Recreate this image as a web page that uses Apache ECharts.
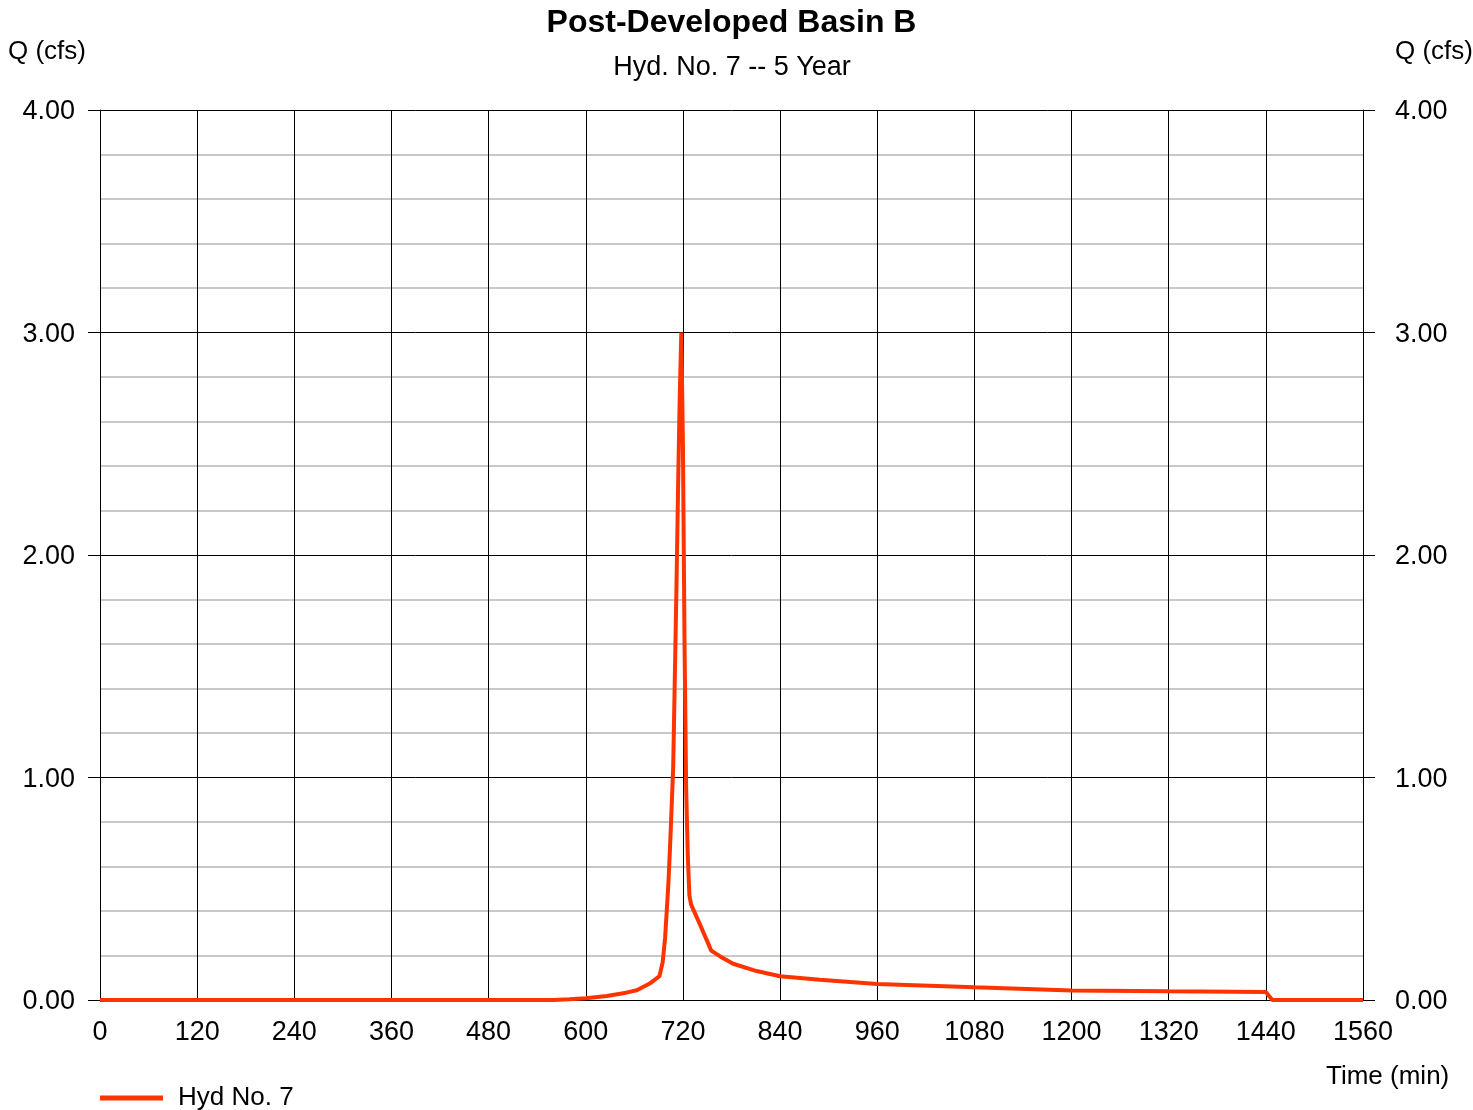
<!DOCTYPE html>
<html>
<head>
<meta charset="utf-8">
<title>Post-Developed Basin B</title>
<script src="https://cdn.jsdelivr.net/npm/echarts@6/dist/echarts.min.js"></script>
<style>
	html, body { margin: 0; padding: 0; background: #fff; }
	#chart { width: 1473px; height: 1110px; }
</style>
</head>
<body>
<div id="chart"></div>
<script>
// time (min)
var timeMin = [0, 560, 580, 600, 626, 650, 663, 679, 691, 695, 698, 700, 702, 704, 706, 708, 710, 712, 714, 716, 718,
	720, 722, 724, 726, 728, 730, 741, 755, 766, 782, 811, 840, 889, 960, 1080, 1200, 1320, 1440, 1448, 1560];
// Q (cfs)
var flowCfs = [0, 0, 0.003, 0.008, 0.018, 0.033, 0.044, 0.074, 0.107, 0.17, 0.28, 0.40, 0.52, 0.68, 0.86, 1.05, 1.45, 1.85, 2.3, 2.7, 3.0,
	2.5, 1.6, 0.95, 0.65, 0.47, 0.43, 0.34, 0.222, 0.196, 0.163, 0.13, 0.107, 0.091, 0.072, 0.057, 0.043, 0.039, 0.036, 0, 0];

var xTicks = { min: 0, max: 1560, step: 120 };
var yTicks = { min: 0, max: 4, step: 1 };

var points = timeMin.map(function(t, i) {
	return [t, flowCfs[i]];
});

var font = 'Liberation Sans, Arial, sans-serif';

// y labels sit a touch lower than the tick in the original
var yLabelRich = {
	v: { fontSize: 27, color: '#000', fontFamily: font, padding: [4, 0, 0, 0] }
};

var chart = echarts.init(document.getElementById('chart'));
chart.setOption({
	animation: false,
	textStyle: {
		fontFamily: font
	},
	title: [{
		text: 'Q (cfs)',
		left: 8,
		top: 39,
		padding: 0,
		textStyle: { fontSize: 26, fontWeight: 'normal', color: '#000', fontFamily: font }
	}, {
		text: 'Q (cfs)',
		left: 1395,
		top: 39,
		padding: 0,
		textStyle: { fontSize: 26, fontWeight: 'normal', color: '#000', fontFamily: font }
	}, {
		text: 'Time (min)',
		left: 1326,
		top: 1064,
		padding: 0,
		textStyle: { fontSize: 26, fontWeight: 'normal', color: '#000', fontFamily: font }
	}],
	graphic: [{
		type: 'text',
		x: 731.5,
		y: 23,
		style: {
			text: 'Post-Developed Basin B',
			align: 'center',
			verticalAlign: 'middle',
			font: 'bold 32px ' + font,
			fill: '#000'
		}
	}, {
		type: 'text',
		x: 732,
		y: 68,
		style: {
			text: 'Hyd. No. 7 -- 5 Year',
			align: 'center',
			verticalAlign: 'middle',
			font: '27px ' + font,
			fill: '#000'
		}
	}],
	legend: {
		left: 100,
		top: 1085,
		padding: 0,
		icon: 'rect',
		itemWidth: 63,
		itemHeight: 5,
		textStyle: { fontSize: 26, color: '#000', fontFamily: font, padding: [0, 0, 0, 10] },
		data: ['Hyd No. 7']
	},
	grid: {
		left: 100,
		right: 110,
		top: 110,
		bottom: 110
	},
	xAxis: {
		type: 'value',
		min: xTicks.min,
		max: xTicks.max,
		interval: xTicks.step,
		axisLine: { show: true, lineStyle: { color: '#000', width: 1 } },
		axisTick: { show: false },
		axisLabel: {
			color: '#000',
			fontSize: 27,
			margin: 19,
			fontFamily: font,
			formatter: function(v) { return String(v); }
		},
		splitLine: { show: true, lineStyle: { color: '#000', width: 1 } }
	},
	yAxis: [{
		type: 'value',
		position: 'left',
		min: yTicks.min,
		max: yTicks.max,
		interval: yTicks.step,
		axisLine: { show: true, lineStyle: { color: '#000', width: 1 } },
		axisTick: { show: true, inside: false, length: 12, lineStyle: { color: '#000' } },
		axisLabel: {
			color: '#000',
			fontSize: 27,
			margin: 25,
			fontFamily: font,
			rich: yLabelRich,
			formatter: function(v) { return '{v|' + v.toFixed(2) + '}'; }
		},
		splitLine: { show: true, lineStyle: { color: '#000', width: 1 } },
		minorTick: { show: false, splitNumber: 5 },
		minorSplitLine: { show: true, lineStyle: { color: '#c8c8c8', width: 2 } }
	}, {
		type: 'value',
		position: 'right',
		min: yTicks.min,
		max: yTicks.max,
		interval: yTicks.step,
		axisLine: { show: true, lineStyle: { color: '#000', width: 1 } },
		axisTick: { show: true, inside: false, length: 12, lineStyle: { color: '#000' } },
		axisLabel: {
			color: '#000',
			fontSize: 27,
			margin: 32,
			fontFamily: font,
			rich: yLabelRich,
			formatter: function(v) { return '{v|' + v.toFixed(2) + '}'; }
		},
		splitLine: { show: false }
	}],
	series: [{
		name: 'Hyd No. 7',
		type: 'line',
		yAxisIndex: 0,
		data: points,
		symbol: 'none',
		smooth: false,
		z: 5,
		lineStyle: { color: '#ff3300', width: 4 },
		itemStyle: { color: '#ff3300' }
	}]
});
</script>
</body>
</html>
